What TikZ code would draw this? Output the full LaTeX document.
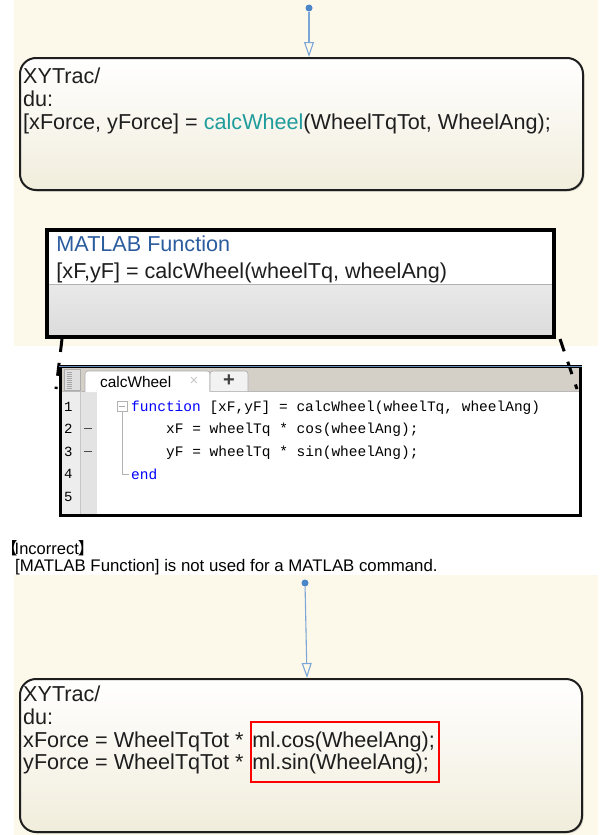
\documentclass[tikz,border=0pt]{standalone}
\usepackage{fontspec}
\setmainfont{Liberation Sans}
\setmonofont{Liberation Mono}
\newfontfamily\cjk{Noto Sans CJK JP}
\usepackage{tikz}
\usetikzlibrary{arrows.meta,positioning,calc,shadows}

\definecolor{chartbg}{HTML}{FDF9EA}
\definecolor{statebot}{HTML}{F1EDDC}
\definecolor{transblue}{HTML}{7BA6D8}
\definecolor{dotblue}{HTML}{4A86C8}
\definecolor{fcnblue}{HTML}{2B5C9E}
\definecolor{calcteal}{HTML}{1F9C9C}
\definecolor{tabgray}{HTML}{D4D0C8}
\definecolor{kwblue}{HTML}{0000FF}
\definecolor{txtdark}{HTML}{1E1E1E}

\begin{document}
\begin{tikzpicture}[x=1pt, y=-1pt,
  chartstate/.style={rectangle, draw=txtdark, line width=2pt, rounded corners=16pt,
    top color=white, bottom color=statebot, inner sep=0pt,
    drop shadow={opacity=0.3, shadow xshift=1.5pt, shadow yshift=-1.5pt}},
  stxt/.style={font=\fontsize{21.6}{22.7}\selectfont, text=txtdark, align=left, inner sep=0pt},
  initdot/.style={circle, fill=dotblue, inner sep=0pt, minimum size=7pt},
  trans/.style={-{Triangle[open, length=15pt, width=10pt]}, transblue, line width=1.1pt},
  fcnbox/.style={rectangle, draw=black, line width=3.5pt, fill=white, inner sep=0pt,
    minimum width=507pt, minimum height=107pt,
    drop shadow={opacity=0.35, shadow xshift=2pt, shadow yshift=-2pt},
    path picture={
      \shade[top color=gray!6, bottom color=gray!28]
        ([yshift=-54pt]path picture bounding box.north west) rectangle (path picture bounding box.south east);
      \draw[gray!60, line width=1pt]
        ([yshift=-54pt]path picture bounding box.north west) -- ([yshift=-54pt]path picture bounding box.north east);}},
  zoomdash/.style={line width=3pt, dash pattern=on 13pt off 11pt},
  code/.style={font=\fontsize{14.5}{17}\ttfamily, inner sep=0pt, anchor=base west},
  lnum/.style={font=\fontsize{14}{17}\ttfamily, inner sep=0pt, anchor=base west},
  tabbox/.style={draw=gray!65, rounded corners=3pt, line width=0.6pt},
  redbox/.style={draw=red, line width=2.6pt, inner sep=0pt, minimum width=188pt, minimum height=60pt}
]
\useasboundingbox (0,0) rectangle (611,835);
\fill[chartbg] (14,0) rectangle (598,346);
\fill[chartbg] (14,575) rectangle (598,835);

\node[initdot] (i1) at (309,8) {};
\node[chartstate, minimum width=563pt, minimum height=132pt] (s1) at (301.5,124) {};
\node[stxt, below right=11pt and 4pt of s1.north west] (t1)
  {XYTrac/\\du:\\{}[xForce, yForce] = \textcolor{calcteal}{calcWheel}(WheelTqTot, WheelAng);};
\draw[trans] (i1) -- (i1 |- s1.north);

\node[fcnbox] (fcn) at (300.5,283.5) {};
\node[stxt, text=fcnblue, below right=7pt and 11pt of fcn.north west] (ft) {MATLAB Function};
\node[stxt, anchor=base west] (fs) at ([yshift=-27pt]ft.base west) {[xF,yF] = calcWheel(wheelTq, wheelAng)};

\fill[tabgray] (61,366) rectangle (579,391);
\fill[white] (97,391) rectangle (579,514);
\fill[gray!14] (61,391) rectangle (80,514);
\fill[gray!22] (80,391) rectangle (97,514);
\draw[gray!55, line width=0.6pt] (61,391) -- (579,391);
\draw[gray!45, line width=0.5pt] (80,391) -- (80,514);
\draw[gray!65, fill=gray!25] (64,369) rectangle (80,390);
\foreach \y in {372,374,...,388} \draw[gray!70, line width=0.5pt] (67,\y) -- (72,\y);
\draw[tabbox, fill=white] (85,392) -- (85,371) -- (210,371) -- (210,392);
\draw[tabbox, fill=gray!10] (210,391) -- (210,371) -- (248,371) -- (248,391);
\node[font=\fontsize{15.4}{17}\selectfont, inner sep=0pt, anchor=west] (tab) at (100,381.5) {calcWheel};
\node[font=\fontsize{15}{17}\selectfont, text=gray!45, inner sep=0pt] (tabx) at (194,381) {×};
\node[font=\bfseries\fontsize{20}{20}\selectfont, text=black!75, inner sep=0pt] (tabplus) at (229,381) {+};

\node[code] (c1) at (131,411) {\textcolor{kwblue}{function} [xF,yF] = calcWheel(wheelTq, wheelAng)};
\node[code] (c2) at (166,433.5) {xF = wheelTq * cos(wheelAng);};
\node[code] (c3) at (166,456) {yF = wheelTq * sin(wheelAng);};
\node[code] (c4) at (131,479) {\textcolor{kwblue}{end}};
\foreach \n in {1,...,5} \node[lnum] (n\n) at (64,{411+22.5*(\n-1)}) {\n};
\draw[black!70, line width=1pt] (84,428) -- (92,428);
\draw[black!70, line width=1pt] (84,451) -- (92,451);
\node[draw=gray!60, fill=white, minimum size=10pt, inner sep=0pt, line width=0.6pt,
  path picture={\draw[gray!70] ([xshift=-3pt]path picture bounding box.center) -- ([xshift=3pt]path picture bounding box.center);}] (fold) at (122,406) {};
\draw[gray!60, line width=0.6pt] (fold.south) |- ([xshift=-2pt]c4.west);

\coordinate (zl1) at (62,339);
\coordinate (zl2) at (56,389);
\coordinate (zr1) at (560,339);
\coordinate (zr2) at (577,389);
\draw[zoomdash] (zl1) -- (zl2);
\draw[zoomdash] (zr1) -- (zr2);

\node[draw=black, line width=3pt, minimum width=520pt, minimum height=149pt, inner sep=0pt] (ed) at (320,440.5) {};
\draw[fcnblue!70, line width=0.8pt] ([yshift=-2pt]ed.north west) -- ([yshift=-2pt]ed.north east);

\node[font=\fontsize{16.5}{20}\selectfont, inner sep=0pt, anchor=west] (lbl) at (1,548)
  {{\cjk【\hspace{-3pt}}Incorrect{\cjk\hspace{-1pt}】}};
\node[font=\fontsize{16.8}{20}\selectfont, inner sep=0pt, anchor=west] (note) at (15,567) {[MATLAB Function] is not used for a MATLAB command.};

\node[initdot] (i2) at (305,583) {};
\node[chartstate, minimum width=562pt, minimum height=153pt] (s2) at (301,755.5) {};
\node[stxt, below right=8pt and 4pt of s2.north west] (t2)
  {XYTrac/\\du:\\xForce = WheelTqTot *\hspace{9pt}ml.cos(WheelAng);\\yForce = WheelTqTot *\hspace{9pt}ml.sin(WheelAng);};
\node[redbox] (ml) at (345,752) {};
\draw[trans] (i2) -- ([xshift=6pt]s2.north);
\end{tikzpicture}
\end{document}
